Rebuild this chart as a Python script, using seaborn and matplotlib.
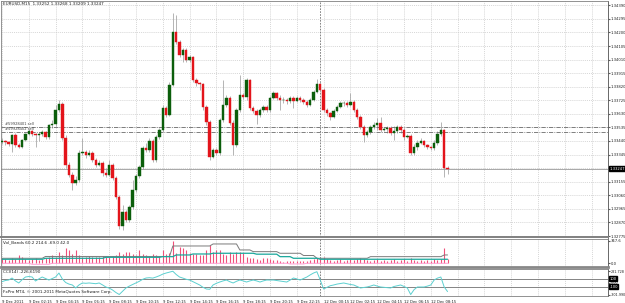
"""
EURUSD M15 - réplica de captura MT4 (velas + Vol_Bands + CCI)
"""

import numpy as np
import pandas as pd
import seaborn as sns
import matplotlib
matplotlib.use("Agg")
import matplotlib.pyplot as plt

# --- Estilo ---
sns.set_style("white")
plt.rcParams["font.family"] = ["DejaVu Sans"]
FS = 3.0     # textos generales
FS_AX = 2.7  # etiquetas de ejes

# --- Datos OHLC ---
opens = [1.33433, 1.33440, 1.33433, 1.33419, 1.33482, 1.33412, 1.33398, 1.33447, 1.33489, 1.33510,
         1.33489, 1.33482, 1.33489, 1.33503, 1.33468, 1.33552, 1.33559, 1.33657, 1.33699, 1.33461,
         1.33272, 1.33202, 1.33146, 1.33167, 1.33356, 1.33363, 1.33342, 1.33356, 1.33307, 1.33272,
         1.33286, 1.33216, 1.33202, 1.33272, 1.33181, 1.33048, 1.32845, 1.32943, 1.32887, 1.32978,
         1.33097, 1.33195, 1.33258, 1.33391, 1.33377, 1.33440, 1.33307, 1.33468, 1.33517, 1.33671,
         1.33622, 1.33832, 1.34203, 1.34133, 1.34042, 1.34077, 1.34007, 1.34028, 1.33867, 1.33846,
         1.33839, 1.33678, 1.33573, 1.33328, 1.33377, 1.33356, 1.33587, 1.33692, 1.33741, 1.33566,
         1.33412, 1.33657, 1.33762, 1.33748, 1.33867, 1.33671, 1.33650, 1.33622, 1.33657, 1.33678,
         1.33657, 1.33741, 1.33776, 1.33741, 1.33727, 1.33727, 1.33720, 1.33741, 1.33720, 1.33741,
         1.33727, 1.33713, 1.33692, 1.33727, 1.33783, 1.33839, 1.33797, 1.33657, 1.33636, 1.33608,
         1.33650, 1.33678, 1.33706, 1.33706, 1.33692, 1.33713, 1.33657, 1.33608, 1.33538, 1.33482,
         1.33503, 1.33538, 1.33552, 1.33566, 1.33517, 1.33524, 1.33531, 1.33496, 1.33510, 1.33538,
         1.33517, 1.33468, 1.33475, 1.33356, 1.33398, 1.33426, 1.33440, 1.33412, 1.33398, 1.33391,
         1.33426, 1.33489, 1.33517, 1.33252]
closes = [1.33440, 1.33433, 1.33419, 1.33482, 1.33412, 1.33398, 1.33447, 1.33489, 1.33510, 1.33489,
          1.33482, 1.33489, 1.33503, 1.33468, 1.33552, 1.33559, 1.33657, 1.33699, 1.33461, 1.33272,
          1.33202, 1.33146, 1.33167, 1.33356, 1.33363, 1.33342, 1.33356, 1.33307, 1.33272, 1.33286,
          1.33216, 1.33202, 1.33272, 1.33181, 1.33048, 1.32845, 1.32943, 1.32887, 1.32978, 1.33097,
          1.33195, 1.33258, 1.33391, 1.33377, 1.33440, 1.33307, 1.33468, 1.33517, 1.33671, 1.33622,
          1.33832, 1.34203, 1.34133, 1.34042, 1.34077, 1.34007, 1.34028, 1.33867, 1.33846, 1.33839,
          1.33678, 1.33573, 1.33328, 1.33377, 1.33356, 1.33587, 1.33692, 1.33741, 1.33566, 1.33412,
          1.33657, 1.33762, 1.33748, 1.33867, 1.33671, 1.33650, 1.33622, 1.33657, 1.33678, 1.33657,
          1.33741, 1.33776, 1.33741, 1.33727, 1.33727, 1.33720, 1.33741, 1.33720, 1.33741, 1.33727,
          1.33713, 1.33692, 1.33727, 1.33783, 1.33839, 1.33797, 1.33657, 1.33636, 1.33608, 1.33650,
          1.33678, 1.33706, 1.33706, 1.33692, 1.33713, 1.33657, 1.33608, 1.33538, 1.33482, 1.33503,
          1.33538, 1.33552, 1.33566, 1.33517, 1.33524, 1.33531, 1.33496, 1.33510, 1.33538, 1.33517,
          1.33468, 1.33475, 1.33356, 1.33398, 1.33426, 1.33440, 1.33412, 1.33398, 1.33391, 1.33426,
          1.33489, 1.33517, 1.33252, 1.33247]
highs = [1.33461, 1.33447, 1.33440, 1.33489, 1.33496, 1.33426, 1.33454, 1.33496, 1.33524, 1.33517,
         1.33496, 1.33503, 1.33517, 1.33510, 1.33559, 1.33587, 1.33692, 1.33727, 1.33713, 1.33482,
         1.33293, 1.33223, 1.33195, 1.33377, 1.33461, 1.33377, 1.33377, 1.33370, 1.33321, 1.33307,
         1.33300, 1.33251, 1.33307, 1.33286, 1.33195, 1.33062, 1.32992, 1.32957, 1.32992, 1.33167,
         1.33209, 1.33272, 1.33405, 1.33426, 1.33461, 1.33454, 1.33482, 1.33531, 1.33692, 1.33685,
         1.33853, 1.34336, 1.34322, 1.34147, 1.34091, 1.34091, 1.34042, 1.34035, 1.33881, 1.33853,
         1.33846, 1.33692, 1.33587, 1.33391, 1.33391, 1.33601, 1.33867, 1.33762, 1.33755, 1.33587,
         1.33671, 1.33902, 1.33776, 1.33881, 1.33874, 1.33685, 1.33664, 1.33671, 1.33692, 1.33692,
         1.33755, 1.33790, 1.33783, 1.33762, 1.33748, 1.33741, 1.33755, 1.33755, 1.33755, 1.33755,
         1.33741, 1.33727, 1.33741, 1.33797, 1.33874, 1.33853, 1.33811, 1.33671, 1.33643, 1.33664,
         1.33692, 1.33720, 1.33720, 1.33720, 1.33776, 1.33727, 1.33671, 1.33622, 1.33552, 1.33517,
         1.33552, 1.33573, 1.33601, 1.33608, 1.33538, 1.33545, 1.33545, 1.33545, 1.33552, 1.33552,
         1.33531, 1.33489, 1.33489, 1.33419, 1.33447, 1.33461, 1.33447, 1.33419, 1.33405, 1.33447,
         1.33510, 1.33573, 1.33524, 1.33268]
lows = [1.33419, 1.33412, 1.33405, 1.33363, 1.33398, 1.33391, 1.33391, 1.33440, 1.33482, 1.33475,
        1.33398, 1.33440, 1.33475, 1.33454, 1.33454, 1.33531, 1.33545, 1.33643, 1.33447, 1.33251,
        1.33188, 1.33097, 1.33132, 1.33153, 1.33342, 1.33321, 1.33335, 1.33293, 1.33258, 1.33265,
        1.33195, 1.33188, 1.33195, 1.33167, 1.33034, 1.32824, 1.32817, 1.32873, 1.32873, 1.32964,
        1.33083, 1.33181, 1.33244, 1.33363, 1.33363, 1.33293, 1.33293, 1.33454, 1.33503, 1.33608,
        1.33615, 1.33825, 1.34119, 1.34028, 1.33993, 1.33993, 1.33993, 1.33853, 1.33825, 1.33797,
        1.33657, 1.33552, 1.33307, 1.33321, 1.33342, 1.33342, 1.33573, 1.33678, 1.33552, 1.33342,
        1.33398, 1.33643, 1.33734, 1.33727, 1.33657, 1.33636, 1.33559, 1.33608, 1.33643, 1.33643,
        1.33643, 1.33734, 1.33727, 1.33657, 1.33706, 1.33699, 1.33706, 1.33671, 1.33713, 1.33713,
        1.33699, 1.33678, 1.33685, 1.33720, 1.33776, 1.33783, 1.33643, 1.33615, 1.33587, 1.33601,
        1.33643, 1.33671, 1.33685, 1.33678, 1.33685, 1.33643, 1.33594, 1.33524, 1.33433, 1.33468,
        1.33489, 1.33524, 1.33517, 1.33503, 1.33510, 1.33496, 1.33482, 1.33447, 1.33496, 1.33496,
        1.33447, 1.33461, 1.33342, 1.33342, 1.33377, 1.33419, 1.33398, 1.33384, 1.33377, 1.33377,
        1.33412, 1.33475, 1.33188, 1.33209]

# --- Vol_Bands ---
volume = [77, 60, 50, 77, 60, 128, 90, 70, 51, 60, 77, 50, 60, 77, 90,
          128, 100, 179, 128, 231, 205, 150, 205, 128, 100, 90, 110, 100, 90, 100,
          110, 100, 90, 110, 128, 179, 140, 179, 179, 150, 128, 205, 150, 128, 110,
          140, 128, 110, 205, 150, 154, 347, 154, 256, 231, 205, 160, 140, 150, 128,
          128, 205, 282, 179, 205, 205, 150, 128, 179, 150, 179, 179, 154, 102, 77,
          77, 60, 51, 77, 77, 60, 51, 51, 40, 25, 40, 30, 40, 35, 30,
          40, 35, 50, 60, 77, 77, 102, 60, 50, 40, 50, 60, 40, 50, 60,
          50, 60, 77, 60, 50, 40, 50, 60, 40, 50, 40, 51, 60, 40, 50,
          60, 40, 77, 50, 40, 51, 40, 50, 40, 60, 51, 60, 236, 60]
band_upper = ([77] * 13 + [105] * 38 + [266] * 12 + [297] * 8 + [205] * 4 + [179] * 8
              + [154] * 7 + [120] * 4 + [77] * 16 + [102] * 22 + [128] * 2)
band_mid = ([62] * 13 + [77] * 18 + [92] * 17 + [102] * 4 + [128] * 5 + [143] * 6
            + [154] * 13 + [140] * 7 + [102] * 4 + [77] * 8 + [62] * 39)
band_lower = [0] * 9 + [-15] * 6 + [0] * 71 + [-10] * 5 + [0] * 43

# --- CCI(14) ---
cci = [20, 50, 62, 112, 40, -12, 70, 137, 150, 137, 37, 90, 137, 100, 62, 100, 137, 237, 90, 0,
       -40, -62, -137, -60, -12, -20, -12, -20, -30, -12, -60, -112, -140, -187, -250, -300, -220, -137, -90, -50,
       -12, 30, 80, 112, 120, 110, 137, 170, 210, 237, 260, 281, 200, 137, 110, 80, 62, 20, -20, -62,
       -120, -162, -170, -62, -20, 12, 40, 62, 20, -12, 30, 62, 40, 12, 40, 62, 40, 12, 40, 62,
       60, 62, 50, 37, 25, 12, 60, 112, 90, 62, 100, 137, 190, 237, 270, 62, -162, -120, -80, -62,
       -40, -25, -12, -30, -50, -62, -100, -137, -125, -112, -90, -62, -90, -112, -120, -130, -137, -100, -80, -62,
       -100, -137, -301, -180, -112, -112, -112, -90, -62, 62, 110, 137, -112, -226.6]

# --- Ejes / etiquetas ---
price_ticks = [1.32775, 1.32870, 1.32965, 1.33060, 1.33155, 1.33250, 1.33345, 1.33440, 1.33535,
               1.33630, 1.33725, 1.33820, 1.33915, 1.34010, 1.34105, 1.34200, 1.34295, 1.34390]
date_labels = ["9 Dec 2011", "9 Dec 02:15", "9 Dec 04:15", "9 Dec 06:15", "9 Dec 08:15",
               "9 Dec 10:15", "9 Dec 12:15", "9 Dec 14:15", "9 Dec 16:15", "9 Dec 18:15",
               "9 Dec 20:15", "9 Dec 22:15", "12 Dec 00:15", "12 Dec 02:15", "12 Dec 04:15",
               "12 Dec 06:15", "12 Dec 08:15"]
order_prices = [1.33540, 1.33505]
order_labels = ["#59928401 sell", "#59928402 sell"]
bid = 1.33247
separator_bar = 95

df = pd.DataFrame({"bar": np.arange(len(closes)), "open": opens, "high": highs,
                   "low": lows, "close": closes, "vol": volume, "upper": band_upper,
                   "mid": band_mid, "lower": band_lower, "cci": cci})

# --- Figura ---
W, H = 625, 303
fig = plt.figure(figsize=(W / 100, H / 100), dpi=100)
fig.patch.set_facecolor("white")


def box(x0, y0, x1, y1):
    return [x0 / W, 1 - y1 / H, (x1 - x0) / W, (y1 - y0) / H]


ax = fig.add_axes(box(1, 1, 608, 237))
axv = fig.add_axes(box(1, 238.5, 608, 267), sharex=ax)
axc = fig.add_axes(box(1, 269, 608, 296), sharex=ax)

grid_kw = dict(color="#c8c8c8", linestyle=(0, (1.5, 1.5)), linewidth=0.5)
xgrid = list(range(0, 181, 8))

for a in (ax, axv, axc):
    a.set_facecolor("white")
    for s in a.spines.values():
        s.set_color("#808080")
        s.set_linewidth(0.6)
    a.spines["right"].set_color("#505050")
    a.yaxis.tick_right()
    a.tick_params(axis="y", labelsize=FS_AX, length=1.2, pad=0.6, color="#606060", labelcolor="#202020")
    a.set_xticks(xgrid)
    a.grid(axis="x", **grid_kw)
    a.axvline(separator_bar, color="#707070", linestyle=(0, (2, 1.5)), linewidth=0.6, zorder=1)
    a.set_axisbelow(True)

ax.spines["bottom"].set_linewidth(1.4)
axv.spines["bottom"].set_linewidth(2.0)
axv.spines["bottom"].set_color("#888888")

# --- Velas ---
up = df["close"] >= df["open"]
colors = np.where(up, "#0b5e0b", "#e3141b")
body = (df["close"] - df["open"]).where(lambda s: s.abs() > 0, 0.00002)
ax.vlines(df["bar"], df["low"], df["high"], color="#a8a8a8", linewidth=0.6, zorder=2)
ax.bar(df["bar"], body, bottom=df["open"], width=0.72, color=colors,
       edgecolor=colors, linewidth=0.3, zorder=3)

for p, lab in zip(order_prices, order_labels):
    ax.axhline(p, color="#6a6a6a", linestyle=(0, (5, 1.5, 1, 1.5)), linewidth=0.6, zorder=2)
    ax.text(0.8, p + 0.00003, lab, fontsize=2.6, color="#404040", va="bottom", ha="left")
ax.axhline(bid, color="#9a9a9a", linewidth=0.6, zorder=2)

ax.set_ylim(1.32768, 1.34420)
ax.set_xlim(-0.3, 180.9)
ax.set_yticks(price_ticks)
ax.set_yticklabels([f"{t:.5f}" for t in price_ticks])
ax.grid(axis="y", **grid_kw)
ax.tick_params(axis="x", length=0, labelbottom=False)
ax.text(0.003, 0.997, "EURUSD,M15  1.33252 1.33268 1.33209 1.33247", transform=ax.transAxes,
        fontsize=FS, va="top", ha="left", color="#202020")
ax.text(1.0025, bid, f"{bid:.5f}", transform=ax.get_yaxis_transform(), fontsize=FS_AX,
        color="white", va="center", ha="left", clip_on=False, zorder=10,
        bbox=dict(boxstyle="square,pad=0.15", facecolor="black", edgecolor="black"))

# --- Vol_Bands ---
axv.vlines(df["bar"], 0, df["vol"], color="#f0507a", linewidth=0.8, zorder=2)
sns.lineplot(data=df, x="bar", y="upper", color="#7a7a7a", linewidth=0.7, ax=axv, legend=False)
sns.lineplot(data=df, x="bar", y="mid", color="#1aa89c", linewidth=0.9, ax=axv, legend=False)
sns.lineplot(data=df, x="bar", y="lower", color="#ff9ed2", linewidth=0.7, ax=axv, legend=False)
axv.set_ylim(-57, 381)
axv.set_yticks([0, 347.6])
axv.set_yticklabels(["0.0", "347.6"])
axv.set_xlabel("")
axv.set_ylabel("")
axv.tick_params(axis="x", length=0, labelbottom=False)
axv.text(0.003, 0.95, "Vol_Bands 60.2 214.6 -69.0 42.0", transform=axv.transAxes,
         fontsize=FS, va="top", ha="left", color="#202020")

# --- CCI ---
for lvl in (100, -100):
    axc.axhline(lvl, color="#707070", linewidth=0.6, zorder=1)
    axc.text(1.0025, lvl, f"{lvl}", transform=axc.get_yaxis_transform(), fontsize=FS_AX,
             color="white", va="center", ha="left", clip_on=False, zorder=10,
             bbox=dict(boxstyle="square,pad=0.1", facecolor="black", edgecolor="black"))
sns.lineplot(data=df, x="bar", y="cci", color="#5cd0d0", linewidth=0.7, ax=axc, legend=False)
axc.set_ylim(-337.5, 337.5)
axc.set_yticks([281.728, 0, -301.99])
axc.set_yticklabels(["281.728", "0.00", "-301.990"])
axc.tick_params(axis="y", labelsize=2.4)
axc.set_xlabel("")
axc.set_ylabel("")
axc.set_xticks(xgrid)
axc.set_xticklabels(date_labels + [""] * (len(xgrid) - len(date_labels)))
axc.tick_params(axis="x", labelsize=FS_AX, length=2, pad=0.6, color="#606060", labelcolor="#202020")
for lab in axc.get_xticklabels():
    lab.set_ha("left")
axc.text(0.003, 0.95, "CCI(14) -226.6190", transform=axc.transAxes,
         fontsize=FS, va="top", ha="left", color="#202020")
axc.text(0.003, 0.16, "FxPro MT4, \u00a9 2001-2011 MetaQuotes Software Corp.", transform=axc.transAxes,
         fontsize=FS, va="center", ha="left", color="#202020")
axc.set_xlim(-0.3, 180.9)

fig.savefig("out.png", dpi=100, facecolor="white")
print("saved out.png")
